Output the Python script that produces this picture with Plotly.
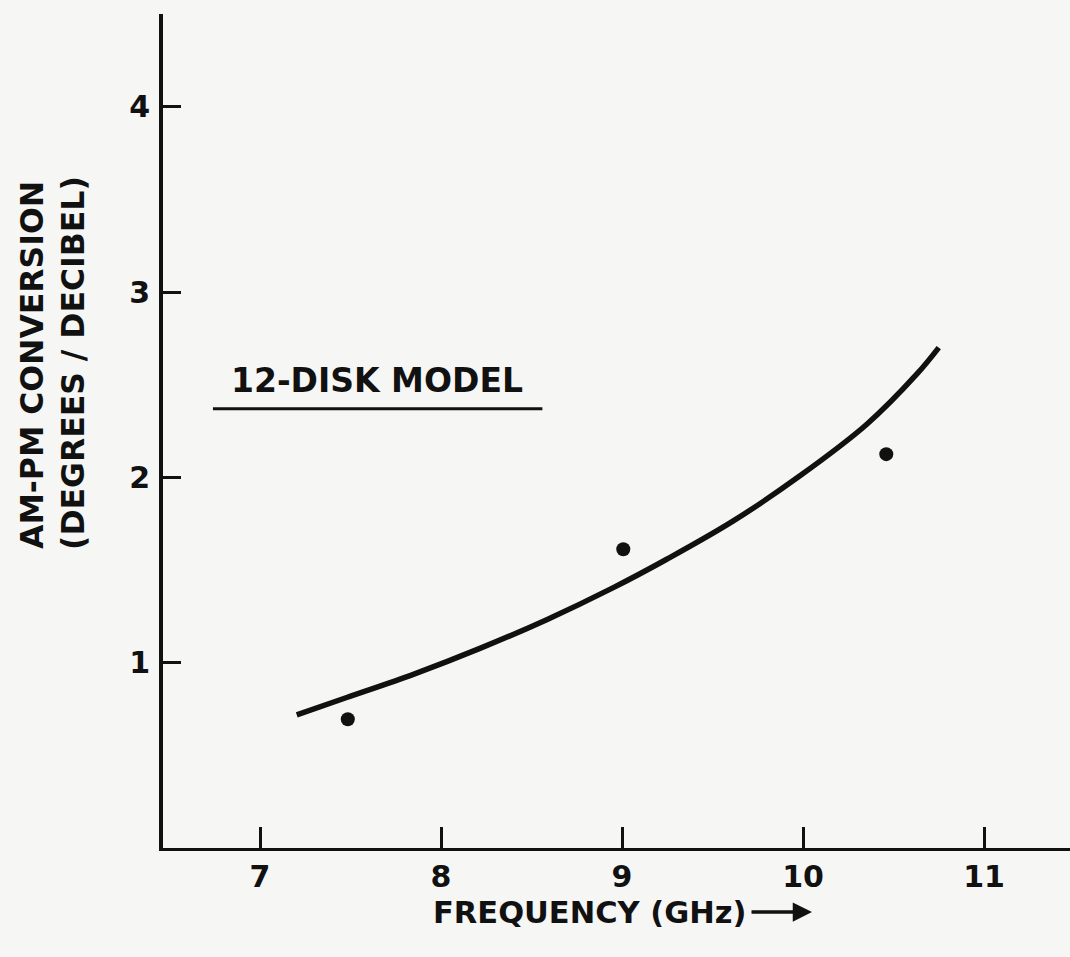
import plotly.graph_objects as go

# Measured data points (frequency GHz, AM-PM conversion deg/dB)
point_freq = [7.485, 9.007, 10.46]
point_ampm = [0.695, 1.612, 2.125]

# 12-disk model curve
curve_freq = [7.203, 7.479, 7.847, 8.215, 8.584, 8.952, 9.247, 9.615, 9.983, 10.351, 10.627, 10.75]
curve_ampm = [0.718, 0.812, 0.937, 1.077, 1.232, 1.405, 1.558, 1.765, 2.008, 2.285, 2.555, 2.700]

x_ticks = [7, 8, 9, 10, 11]
x_ticklabels = ["7", "8", "9", "10", "11"]
y_ticks = [1, 2, 3, 4]
y_ticklabels = ["1", "2", "3", "4"]

FONT = "DejaVu Sans"
INK = "#111111"
BG = "#f6f6f5"

fig = go.Figure()
fig.add_trace(go.Scatter(
    x=curve_freq, y=curve_ampm, mode="lines",
    line=dict(color=INK, width=5.5, shape="spline", smoothing=1.0),
    showlegend=False, hoverinfo="skip"))
fig.add_trace(go.Scatter(
    x=point_freq, y=point_ampm, mode="markers",
    marker=dict(color=INK, size=14),
    showlegend=False))

# Model label with underline
fig.add_annotation(x=7.646, y=2.52, xref="x", yref="y", text="<b>12-DISK MODEL</b>",
                   showarrow=False, xanchor="center", yanchor="middle",
                   font=dict(family=FONT, size=33, color=INK))
fig.add_shape(type="line", xref="x", yref="y", x0=6.74, x1=8.56, y0=2.37, y1=2.37,
              line=dict(color=INK, width=3))

W, H = 1070, 957
ML, MR, MT, MB = 163, 0, 14, 109
pw, ph = W - ML - MR, H - MT - MB


def px_x(v):
    return (v - ML) / pw


def px_y(v):
    return (H - MB - v) / ph


# Y-axis title (two rotated lines)
fig.add_annotation(x=px_x(32), y=px_y(365), xref="paper", yref="paper",
                   text="<b>AM-PM CONVERSION</b>", showarrow=False, textangle=-90,
                   xanchor="center", yanchor="middle",
                   font=dict(family=FONT, size=31.5, color=INK))
fig.add_annotation(x=px_x(73), y=px_y(363), xref="paper", yref="paper",
                   text="<b>(DEGREES / DECIBEL)</b>", showarrow=False, textangle=-90,
                   xanchor="center", yanchor="middle",
                   font=dict(family=FONT, size=31.5, color=INK))

# X-axis title with arrow
fig.add_annotation(x=px_x(590), y=px_y(912), xref="paper", yref="paper",
                   text="<b>FREQUENCY (GHz)</b>", showarrow=False,
                   xanchor="center", yanchor="middle",
                   font=dict(family=FONT, size=30.5, color=INK))
fig.add_annotation(x=px_x(812), y=px_y(912), xref="paper", yref="paper", text="",
                   showarrow=True, ax=-62, ay=0, arrowhead=2, arrowsize=1.1,
                   arrowwidth=3.5, arrowcolor=INK)

fig.update_layout(
    width=W, height=H,
    margin=dict(l=ML, r=MR, t=MT, b=MB),
    paper_bgcolor=BG, plot_bgcolor=BG,
    font=dict(family=FONT, color=INK),
    xaxis=dict(range=[6.464, 11.475], tickvals=x_ticks, ticktext=x_ticklabels,
               ticks="inside", ticklen=21, tickwidth=2.5, tickcolor=INK,
               showline=True, linewidth=3, linecolor=INK, showgrid=False, zeroline=False,
               tickfont=dict(family=FONT, size=30, color=INK, weight="bold"),
               ticklabelstandoff=0),
    yaxis=dict(range=[0, 4.5], tickvals=y_ticks, ticktext=y_ticklabels,
               ticks="inside", ticklen=18, tickwidth=2.5, tickcolor=INK,
               showline=True, linewidth=4, linecolor=INK, showgrid=False, zeroline=False,
               tickfont=dict(family=FONT, size=30, color=INK, weight="bold"),
               ticklabelstandoff=3),
)

fig.write_html("out.html")
